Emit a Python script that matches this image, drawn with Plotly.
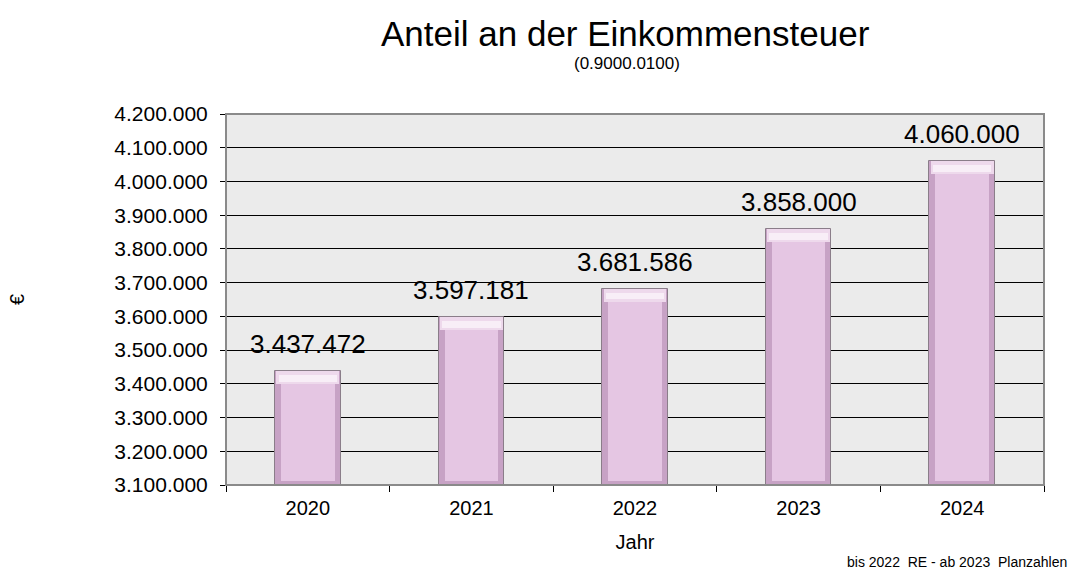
import plotly.graph_objects as go

# Chart data
years = ["2020", "2021", "2022", "2023", "2024"]
values = [3437472, 3597181, 3681586, 3858000, 4060000]
y_ticks = [3100000 + 100000 * i for i in range(12)]

y_min, y_max = 3100000, 4200000
font_family = "Liberation Sans, Arial, sans-serif"
pos = list(range(len(years)))

# bevel geometry (in axis units / category fractions)
unit_per_px = (y_max - y_min) / 371.0
top_bevel = 13 * unit_per_px
bottom_bevel = 4 * unit_per_px
bar_w = 0.40
face_w = bar_w * 0.82

fig = go.Figure()

# outer bar: darker rim of the bevel
fig.add_trace(go.Bar(
    x=pos, y=[v - y_min for v in values], base=[y_min] * len(values), width=bar_w,
    marker=dict(color="#c7a2c5", line=dict(color="#8a7d89", width=1)),
    hoverinfo="skip", showlegend=False,
))
# lighter band along the top edge
fig.add_trace(go.Bar(
    x=pos, y=[top_bevel] * len(values), base=[v - top_bevel for v in values],
    width=bar_w - 0.015,
    marker=dict(color="#eed9ec", line=dict(width=0)),
    hoverinfo="skip", showlegend=False,
))
fig.add_trace(go.Bar(
    x=pos, y=[top_bevel * 0.5] * len(values), base=[v - top_bevel * 0.8 for v in values],
    width=face_w + 0.03,
    marker=dict(color="#f8eef7", line=dict(width=0)),
    hoverinfo="skip", showlegend=False,
))
# main face of each bar
fig.add_trace(go.Bar(
    x=pos, y=[v - y_min - top_bevel - bottom_bevel for v in values],
    base=[y_min + bottom_bevel] * len(values), width=face_w,
    marker=dict(color="#e5c6e3", line=dict(width=0)),
    hoverinfo="skip", showlegend=False,
))

# value labels above the bars
for p, v in zip(pos, values):
    fig.add_annotation(
        x=p, y=v, text=f"{v:,}".replace(",", "."), showarrow=False,
        yanchor="bottom", yshift=10,
        font=dict(family=font_family, size=26, color="#000000"),
    )

# titles and notes
fig.add_annotation(
    xref="paper", yref="paper", x=0.488, y=1.0, yshift=81,
    text="Anteil an der Einkommensteuer", showarrow=False, yanchor="middle",
    font=dict(family=font_family, size=35, color="#000000"),
)
fig.add_annotation(
    xref="paper", yref="paper", x=0.49, y=1.0, yshift=51,
    text="(0.9000.0100)", showarrow=False, yanchor="middle",
    font=dict(family=font_family, size=17, color="#000000"),
)
fig.add_annotation(
    xref="paper", yref="paper", x=-0.272, y=0.5,
    text="€", showarrow=False, textangle=-90,
    font=dict(family=font_family, size=20, color="#000000"),
)
fig.add_annotation(
    xref="paper", yref="paper", x=1.03, y=0.0, yshift=-77,
    xanchor="right", yanchor="middle",
    text="bis 2022  RE - ab 2023  Planzahlen", showarrow=False,
    font=dict(family=font_family, size=14, color="#000000"),
)

fig.update_layout(
    width=1072, height=573,
    margin=dict(l=226, r=28, t=114, b=88),
    paper_bgcolor="#ffffff",
    plot_bgcolor="#ebebeb",
    barmode="overlay",
    bargap=0,
    separators=",.",
    font=dict(family=font_family, color="#000000"),
    xaxis=dict(
        range=[-0.5, len(years) - 0.5], tickvals=pos, ticktext=years,
        showgrid=False, zeroline=False, ticks="", tickangle=0,
        minor=dict(tick0=-0.5, dtick=1, ticks="outside", ticklen=6,
                   tickcolor="#000000", showgrid=False),
        showline=True, linecolor="#000000", linewidth=1,
        tickfont=dict(size=20), ticklabelstandoff=5,
        title=dict(text="Jahr", font=dict(size=20), standoff=16),
    ),
    yaxis=dict(
        range=[y_min, y_max], tickvals=y_ticks, tickformat=",d",
        showgrid=True, gridcolor="#000000", gridwidth=1,
        ticks="outside", ticklen=5, tickcolor="#000000",
        showline=True, linecolor="#000000", linewidth=1,
        tickfont=dict(size=21), zeroline=False, ticklabelstandoff=8,
    ),
    shapes=[dict(
        type="rect", xref="paper", yref="paper", x0=0, x1=1, y0=0, y1=1,
        line=dict(color="#8a8a8a", width=2), layer="above",
    )],
)

fig.write_html("out.html")
